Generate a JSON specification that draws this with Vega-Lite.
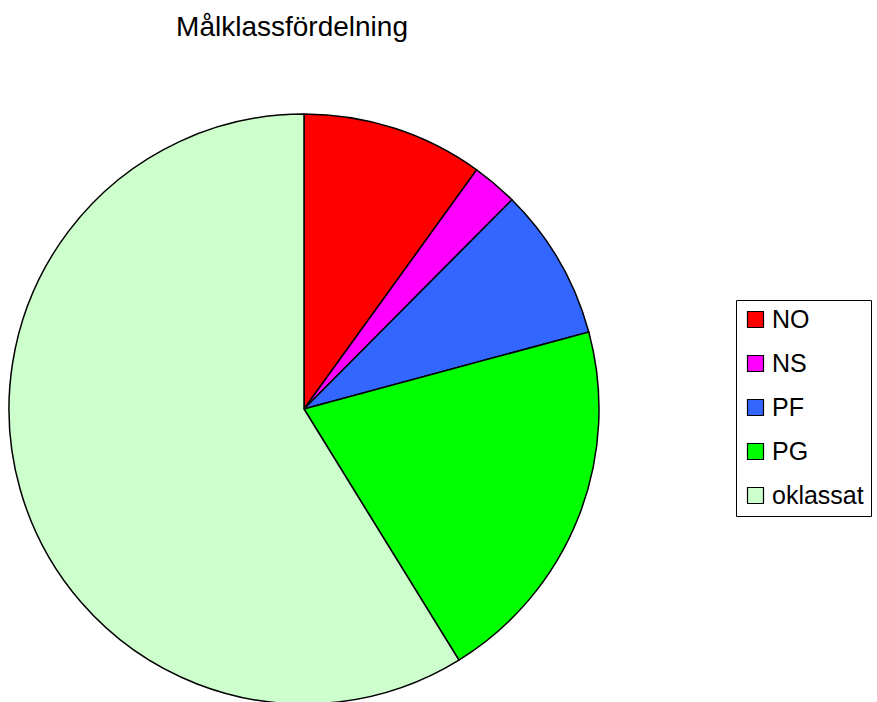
{
  "$schema": "https://vega.github.io/schema/vega-lite/v6.json",
  "autosize": "none",
  "width": 608,
  "height": 718,
  "padding": {"left": 0, "top": 50, "right": 269, "bottom": 0},
  "background": "white",
  "title": {
    "text": "Målklassfördelning",
    "font": "Liberation Sans",
    "fontSize": 28,
    "fontWeight": "normal",
    "color": "black",
    "anchor": "middle",
    "dx": -12,
    "offset": 8
  },
  "data": {
    "values": [
      {"klass": "NO", "andel": 9.95, "ord": 1},
      {"klass": "NS", "andel": 2.5, "ord": 2},
      {"klass": "PF", "andel": 8.35, "ord": 3},
      {"klass": "PG", "andel": 20.4, "ord": 4},
      {"klass": "oklassat", "andel": 58.8, "ord": 5}
    ]
  },
  "mark": {"type": "arc", "outerRadius": 295, "stroke": "black", "strokeWidth": 1.5},
  "encoding": {
    "theta": {"field": "andel", "type": "quantitative", "stack": true},
    "order": {"field": "ord", "type": "quantitative"},
    "color": {
      "field": "klass",
      "type": "nominal",
      "sort": ["NO", "NS", "PF", "PG", "oklassat"],
      "scale": {
        "domain": ["NO", "NS", "PF", "PG", "oklassat"],
        "range": ["#FF0000", "#FF00FF", "#3366FF", "#00FF00", "#CCFFCC"]
      },
      "legend": {
        "title": null,
        "orient": "none",
        "legendX": 736,
        "legendY": 250,
        "symbolType": "square",
        "symbolSize": 256,
        "symbolStrokeColor": "black",
        "symbolStrokeWidth": 1.2,
        "labelFont": "Liberation Sans",
        "labelFontSize": 25,
        "labelColor": "black",
        "labelOffset": 4,
        "rowPadding": 18,
        "padding": 7,
        "strokeColor": "black",
        "fillColor": "white"
      }
    }
  },
  "config": {"view": {"stroke": null}}
}
